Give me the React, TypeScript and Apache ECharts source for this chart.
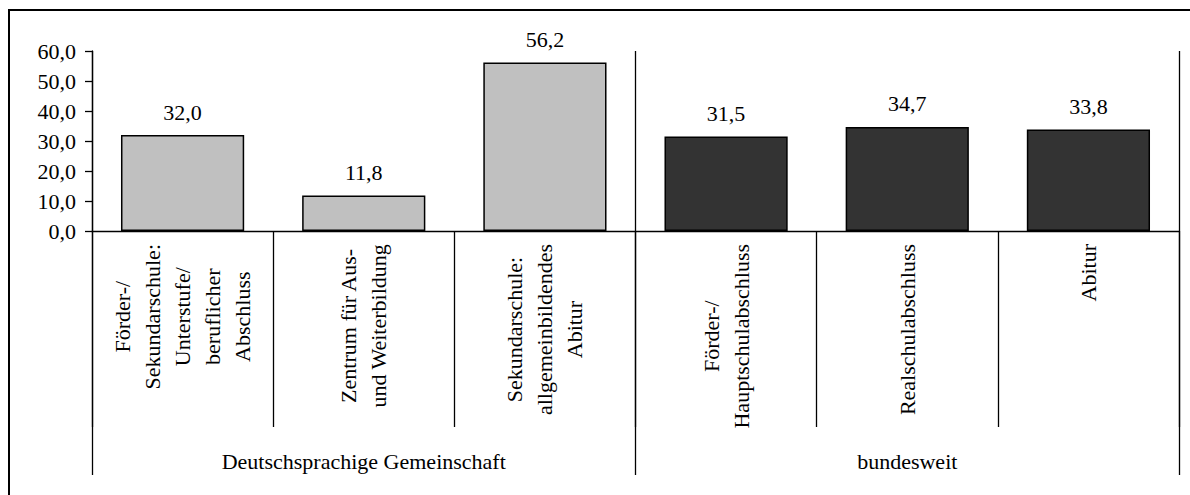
import React, { useEffect, useRef } from "react";
import * as echarts from "echarts";

const categories: string[] = [
  "Förder-/\nSekundarschule:\nUnterstufe/\nberuflicher\nAbschluss",
  "Zentrum für Aus-\nund Weiterbildung",
  "Sekundarschule:\nallgemeinbildendes\nAbitur",
  "Förder-/\nHauptschulabschluss",
  "Realschulabschluss",
  "Abitur",
];
const values: number[] = [32.0, 11.8, 56.2, 31.5, 34.7, 33.8];
const groupOfCategory: number[] = [0, 0, 0, 1, 1, 1];
const groups: string[] = ["Deutschsprachige Gemeinschaft", "bundesweit"];
const yTicks = { min: 0, max: 60, interval: 10 };

const GROUP_COLORS = ["#c0c0c0", "#333333"];
const FONT = "Liberation Serif";
const FS = 22;
const fmt = (v: number) => v.toFixed(1).replace(".", ",");

export default function App() {
  const ref = useRef<HTMLDivElement>(null);
  useEffect(() => {
    if (!ref.current) return;
    const chart = echarts.init(ref.current, undefined, { renderer: "svg" });
    const lineStyle = { color: "#000", width: 1.3 };
    chart.setOption({
      animation: false,
      backgroundColor: "#fff",
      textStyle: { fontFamily: FONT, fontSize: FS },
      graphic: [
        {
          type: "rect",
          shape: { x: 9, y: 10, width: 1300, height: 600 },
          style: { fill: "none", stroke: "#000", lineWidth: 2 },
          silent: true,
        },
      ],
      grid: { left: 92, right: 11, top: 51, bottom: 264, containLabel: false },
      xAxis: [
        {
          type: "category",
          data: categories,
          position: "bottom",
          axisLine: { show: true, lineStyle },
          axisTick: { show: true, interval: 0, length: 196, lineStyle },
          splitLine: { show: false },
          axisLabel: {
            interval: 0,
            rotate: 90,
            margin: 13,
            formatter: (v: string) =>
              v
                .split("\n")
                .map((l) => `{c|${l}}`)
                .join("\n"),
            rich: {
              c: {
                align: "center",
                fontSize: FS,
                fontFamily: FONT,
                color: "#000",
                lineHeight: 30,
              },
            },
          },
        },
        {
          type: "category",
          data: groups,
          position: "bottom",
          axisLine: { show: false },
          axisTick: { show: true, interval: 0, length: 244, lineStyle },
          splitLine: { show: true, interval: 0, lineStyle },
          axisLabel: {
            interval: 0,
            margin: 219,
            fontSize: FS,
            fontFamily: FONT,
            color: "#000",
          },
        },
      ],
      yAxis: {
        type: "value",
        min: yTicks.min,
        max: yTicks.max,
        interval: yTicks.interval,
        axisLine: { show: true, lineStyle },
        axisTick: { show: true, length: 7, lineStyle },
        splitLine: { show: false },
        axisLabel: {
          margin: 16,
          fontSize: FS,
          fontFamily: FONT,
          color: "#000",
          formatter: (v: number) => fmt(v),
        },
      },
      series: [
        {
          type: "bar",
          xAxisIndex: 0,
          barWidth: "68%",
          data: values.map((v, i) => ({
            value: v,
            itemStyle: {
              color: GROUP_COLORS[groupOfCategory[i]],
              borderColor: "#000",
              borderWidth: 1.5,
            },
          })),
          label: {
            show: true,
            position: "top",
            distance: 12,
            fontSize: FS,
            fontFamily: FONT,
            color: "#000",
            formatter: (p: any) => fmt(p.value),
          },
        },
      ],
    });
    return () => chart.dispose();
  }, []);
  return (
    <div
      ref={ref}
      style={{ position: "fixed", left: 0, top: 0, width: 1190, height: 495 }}
    />
  );
}
